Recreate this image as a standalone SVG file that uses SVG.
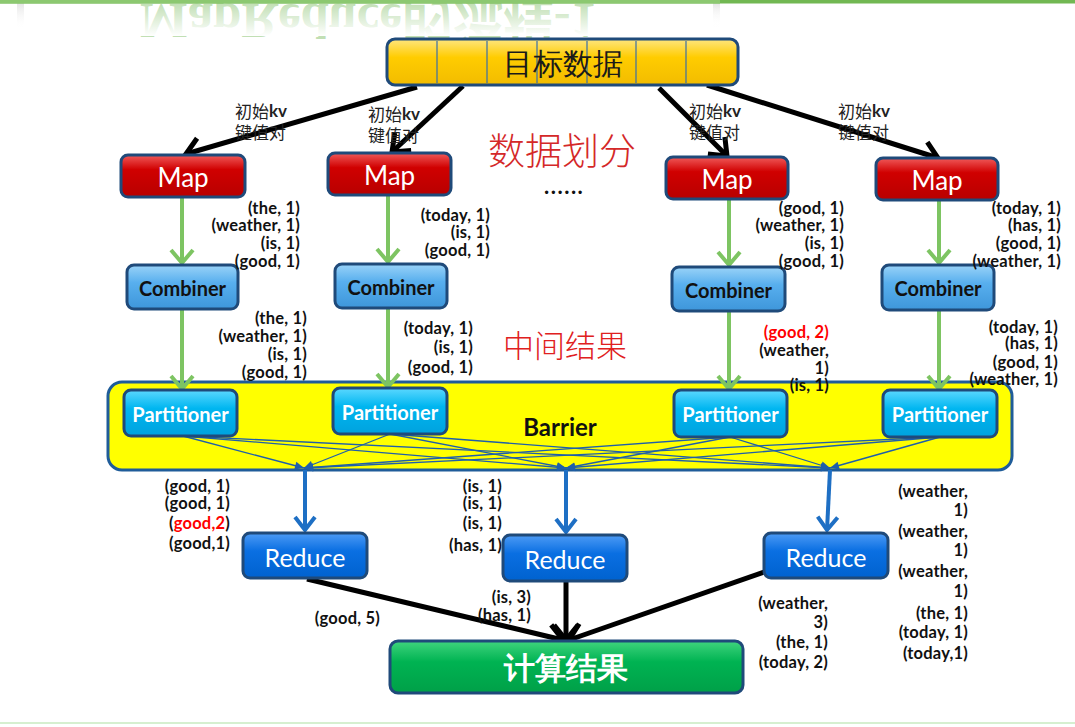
<svg xmlns="http://www.w3.org/2000/svg" width="1075" height="727" viewBox="0 0 1075 727">
<style>
.box{stroke:#1F4A7A;stroke-width:3}
.lbl{font-family:Lato,"Liberation Sans",sans-serif;font-weight:bold;font-size:16.5px;letter-spacing:0.2px;fill:#111;text-anchor:end;dominant-baseline:central}
.cjk{font-family:"Noto Sans CJK SC",sans-serif}
.kv{font-family:"Noto Sans CJK SC",sans-serif;font-size:17px;fill:#222;dominant-baseline:central}
.kvb{font-family:Lato,"Liberation Sans",sans-serif;font-weight:bold}
.bt{font-family:Lato,"Liberation Sans",sans-serif;text-anchor:middle;dominant-baseline:central}
.gline{stroke:#7DC462;stroke-width:4;fill:none;marker-end:url(#mg)}
.bline{stroke:#1E6FC4;stroke-width:4;fill:none;marker-end:url(#mbt)}
.tline{stroke:#1F5FAA;stroke-width:1.3;fill:none;marker-end:url(#mtn)}
.kline{stroke:#000;stroke-width:5;fill:none;marker-end:url(#mk)}
</style>
<defs>
<linearGradient id="gGold" x1="0" y1="0" x2="0" y2="1"><stop offset="0" stop-color="#FFE680"/><stop offset="0.4" stop-color="#FFCC00"/><stop offset="1" stop-color="#F2BC00"/></linearGradient>
<linearGradient id="gRed" x1="0" y1="0" x2="0" y2="1"><stop offset="0" stop-color="#F05A5A"/><stop offset="0.35" stop-color="#D00000"/><stop offset="1" stop-color="#B80000"/></linearGradient>
<linearGradient id="gComb" x1="0" y1="0" x2="0" y2="1"><stop offset="0" stop-color="#9AD3F8"/><stop offset="0.4" stop-color="#58AFEE"/><stop offset="1" stop-color="#3E96DA"/></linearGradient>
<linearGradient id="gPart" x1="0" y1="0" x2="0" y2="1"><stop offset="0" stop-color="#5CD8FF"/><stop offset="0.4" stop-color="#00B6F0"/><stop offset="1" stop-color="#00A2DE"/></linearGradient>
<linearGradient id="gRed2" x1="0" y1="0" x2="0" y2="1"><stop offset="0" stop-color="#4D9BF5"/><stop offset="0.4" stop-color="#0A6FE2"/><stop offset="1" stop-color="#0062CF"/></linearGradient>
<linearGradient id="gGreen" x1="0" y1="0" x2="0" y2="1"><stop offset="0" stop-color="#40D47E"/><stop offset="0.4" stop-color="#00B352"/><stop offset="1" stop-color="#00A048"/></linearGradient>
<linearGradient id="gFade" x1="0" y1="0" x2="0" y2="1"><stop offset="0" stop-color="#FFFFFF" stop-opacity="0"/><stop offset="1" stop-color="#FFFFFF" stop-opacity="1"/></linearGradient>
<linearGradient id="gEdge" x1="0" y1="0" x2="0" y2="1"><stop offset="0" stop-color="#E4E4E4"/><stop offset="1" stop-color="#FFFFFF" stop-opacity="0"/></linearGradient>
<marker id="mg" markerUnits="userSpaceOnUse" viewBox="-16 -14 20 28" markerWidth="20" markerHeight="28" refX="0" refY="0" orient="auto"><path d="M-13,-11 L0,0 L-13,11" fill="none" stroke="#7DC462" stroke-width="4"/></marker>
<marker id="mbt" markerUnits="userSpaceOnUse" viewBox="-16 -14 20 28" markerWidth="20" markerHeight="28" refX="0" refY="0" orient="auto"><path d="M-13,-10 L0,0 L-13,10" fill="none" stroke="#1E6FC4" stroke-width="4"/></marker>
<marker id="mtn" markerUnits="userSpaceOnUse" viewBox="-10 -5 11 10" markerWidth="11" markerHeight="10" refX="0" refY="0" orient="auto"><path d="M-9,-4 L0,0 L-9,4 Z" fill="#1F5FAA"/></marker>
<marker id="mk" markerUnits="userSpaceOnUse" viewBox="-19 -16 24 32" markerWidth="24" markerHeight="32" refX="0" refY="0" orient="auto"><path d="M-15,-12 L0,0 L-15,12" fill="none" stroke="#000" stroke-width="5"/></marker>
</defs>

<rect width="1075" height="727" fill="#FFFFFF"/>
<g id="decor">
<rect x="17" y="3" width="7" height="26" fill="url(#gEdge)"/>
<rect x="713" y="3" width="7" height="26" fill="url(#gEdge)"/>
<text transform="translate(0,4) scale(1,-1)" x="140" y="0" font-family="'Liberation Serif','Noto Sans CJK SC',serif" font-weight="bold" font-size="50" textLength="456" lengthAdjust="spacingAndGlyphs" fill="#9CCD88" fill-opacity="0.65">MapReduce的流程-1</text>
<rect x="100" y="3" width="620" height="33" fill="url(#gFade)"/>
<rect x="0" y="0" width="1075" height="3.5" fill="#72B853"/>
<rect x="0" y="0" width="720" height="3.5" fill="#8CC870"/>
<rect x="0" y="722" width="1075" height="2" fill="#D6EFD0"/>
</g>

<g id="barrier">
<rect x="108" y="382" width="904" height="88" rx="14" fill="#FFFF00" stroke="#1F5C99" stroke-width="3"/>
<text class="bt" x="560" y="426" font-size="24" font-weight="bold" fill="#111">Barrier</text>
</g>

<g id="connectors">
<line class="kline" x1="417" y1="87" x2="186" y2="154"/>
<line class="kline" x1="463" y1="86" x2="392" y2="152"/>
<line class="kline" x1="659" y1="88" x2="727" y2="156"/>
<line class="kline" x1="707" y1="85" x2="938" y2="158"/>
<line class="gline" x1="182" y1="197" x2="182" y2="263"/>
<line class="gline" x1="388" y1="195" x2="388" y2="262"/>
<line class="gline" x1="729" y1="199" x2="729" y2="265"/>
<line class="gline" x1="939" y1="200" x2="939" y2="263"/>
<line class="gline" x1="182" y1="309" x2="182" y2="389"/>
<line class="gline" x1="388" y1="308" x2="388" y2="387"/>
<line class="gline" x1="729" y1="311" x2="729" y2="389"/>
<line class="gline" x1="939" y1="310" x2="939" y2="389"/>
<line class="tline" x1="183" y1="436" x2="304" y2="468"/>
<line class="tline" x1="183" y1="436" x2="566" y2="468"/>
<line class="tline" x1="183" y1="436" x2="830" y2="468"/>
<line class="tline" x1="390" y1="434" x2="304" y2="468"/>
<line class="tline" x1="390" y1="434" x2="566" y2="468"/>
<line class="tline" x1="390" y1="434" x2="830" y2="468"/>
<line class="tline" x1="730" y1="437" x2="304" y2="468"/>
<line class="tline" x1="730" y1="437" x2="566" y2="468"/>
<line class="tline" x1="730" y1="437" x2="830" y2="468"/>
<line class="tline" x1="940" y1="437" x2="304" y2="468"/>
<line class="tline" x1="940" y1="437" x2="566" y2="468"/>
<line class="tline" x1="940" y1="437" x2="830" y2="468"/>
<line class="bline" x1="305" y1="470" x2="305" y2="530"/>
<line class="bline" x1="566" y1="470" x2="566" y2="532"/>
<line class="bline" x1="830" y1="470" x2="827" y2="530"/>
<line class="kline" x1="307" y1="579" x2="563" y2="640"/>
<line class="kline" x1="566" y1="581" x2="566" y2="640"/>
<line class="kline" x1="764" y1="572" x2="569" y2="640"/>
</g>

<g id="target">
<rect class="box" x="387" y="39" width="351" height="46" rx="8" fill="url(#gGold)"/>
<g stroke="#3A6EA5" stroke-width="1.2">
<line x1="437" y1="41" x2="437" y2="83"/><line x1="487" y1="41" x2="487" y2="83"/><line x1="537" y1="41" x2="537" y2="83"/><line x1="587" y1="41" x2="587" y2="83"/><line x1="636" y1="41" x2="636" y2="83"/><line x1="686" y1="41" x2="686" y2="83"/>
</g>
<text class="bt cjk" x="563" y="62" font-size="30" fill="#1A1A1A">目标数据</text>
</g>

<g id="map1"><rect class="box" x="121" y="155" width="124" height="42" rx="7" fill="url(#gRed)"/><text class="bt" x="183" y="177" font-size="26" fill="#fff">Map</text></g>
<g id="map2"><rect class="box" x="328" y="153" width="123" height="42" rx="7" fill="url(#gRed)"/><text class="bt" x="389.5" y="175" font-size="26" fill="#fff">Map</text></g>
<g id="map3"><rect class="box" x="666" y="157" width="122" height="42" rx="7" fill="url(#gRed)"/><text class="bt" x="727" y="179" font-size="26" fill="#fff">Map</text></g>
<g id="map4"><rect class="box" x="876" y="158" width="122" height="42" rx="7" fill="url(#gRed)"/><text class="bt" x="937" y="180" font-size="26" fill="#fff">Map</text></g>

<g id="comb1"><rect class="box" x="127" y="265" width="111" height="44" rx="7" fill="url(#gComb)"/><text class="bt" x="182.5" y="288" font-size="20" font-weight="bold" fill="#111">Combiner</text></g>
<g id="comb2"><rect class="box" x="335" y="264" width="112" height="44" rx="7" fill="url(#gComb)"/><text class="bt" x="391" y="287" font-size="20" font-weight="bold" fill="#111">Combiner</text></g>
<g id="comb3"><rect class="box" x="672" y="267" width="113" height="44" rx="7" fill="url(#gComb)"/><text class="bt" x="728.5" y="290" font-size="20" font-weight="bold" fill="#111">Combiner</text></g>
<g id="comb4"><rect class="box" x="882" y="265" width="112" height="45" rx="7" fill="url(#gComb)"/><text class="bt" x="938" y="288" font-size="20" font-weight="bold" fill="#111">Combiner</text></g>

<g id="part1"><rect class="box" x="124" y="390" width="113" height="46" rx="7" fill="url(#gPart)"/><text class="bt" x="180.5" y="414" font-size="20" font-weight="bold" fill="#fff">Partitioner</text></g>
<g id="part2"><rect class="box" x="333" y="388" width="114" height="46" rx="7" fill="url(#gPart)"/><text class="bt" x="390" y="412" font-size="20" font-weight="bold" fill="#fff">Partitioner</text></g>
<g id="part3"><rect class="box" x="674" y="390" width="113" height="47" rx="7" fill="url(#gPart)"/><text class="bt" x="730.5" y="414" font-size="20" font-weight="bold" fill="#fff">Partitioner</text></g>
<g id="part4"><rect class="box" x="883" y="390" width="114" height="47" rx="7" fill="url(#gPart)"/><text class="bt" x="940" y="414" font-size="20" font-weight="bold" fill="#fff">Partitioner</text></g>

<g id="reduce1"><rect class="box" x="243" y="533" width="124" height="45" rx="7" fill="url(#gRed2)"/><text class="bt" x="305" y="557" font-size="25" fill="#fff">Reduce</text></g>
<g id="reduce2"><rect class="box" x="503" y="535" width="124" height="46" rx="7" fill="url(#gRed2)"/><text class="bt" x="565" y="559" font-size="25" fill="#fff">Reduce</text></g>
<g id="reduce3"><rect class="box" x="764" y="533" width="124" height="45" rx="7" fill="url(#gRed2)"/><text class="bt" x="826" y="557" font-size="25" fill="#fff">Reduce</text></g>

<g id="result"><rect class="box" x="390" y="641" width="353" height="52" rx="8" fill="url(#gGreen)"/><text class="bt cjk" x="566" y="667" font-size="31" font-weight="bold" fill="#fff">计算结果</text></g>

<g id="titles">
<text class="cjk" x="488" y="149" font-size="37" font-weight="300" fill="#D42828" dominant-baseline="central">数据划分</text>
<text class="cjk" x="503" y="343" font-size="31" font-weight="300" fill="#E02020" dominant-baseline="central">中间结果</text>
<text x="544" y="194" font-family="Lato,'Liberation Sans',sans-serif" font-weight="bold" font-size="22" letter-spacing="1.5" fill="#111">......</text>
</g>

<g id="kvlabels">
<text class="kv" x="235" y="110">初始<tspan class="kvb">kv</tspan></text><text class="kv" x="235" y="131">键值对</text>
<text class="kv" x="368" y="113">初始<tspan class="kvb">kv</tspan></text><text class="kv" x="368" y="134">键值对</text>
<text class="kv" x="689" y="110">初始<tspan class="kvb">kv</tspan></text><text class="kv" x="689" y="131">键值对</text>
<text class="kv" x="838" y="110">初始<tspan class="kvb">kv</tspan></text><text class="kv" x="838" y="131">键值对</text>
</g>

<g id="pairs">
<text class="lbl" x="300" y="208">(the, 1)</text><text class="lbl" x="300" y="225">(weather, 1)</text><text class="lbl" x="300" y="243">(is, 1)</text><text class="lbl" x="300" y="261">(good, 1)</text>
<text class="lbl" x="490" y="215">(today, 1)</text><text class="lbl" x="490" y="232">(is, 1)</text><text class="lbl" x="490" y="250">(good, 1)</text>
<text class="lbl" x="844" y="208">(good, 1)</text><text class="lbl" x="844" y="225">(weather, 1)</text><text class="lbl" x="844" y="243">(is, 1)</text><text class="lbl" x="844" y="261">(good, 1)</text>
<text class="lbl" x="1061" y="208">(today, 1)</text><text class="lbl" x="1061" y="225">(has, 1)</text><text class="lbl" x="1061" y="243">(good, 1)</text><text class="lbl" x="1061" y="261">(weather, 1)</text>
<text class="lbl" x="307" y="318">(the, 1)</text><text class="lbl" x="307" y="336">(weather, 1)</text><text class="lbl" x="307" y="354">(is, 1)</text><text class="lbl" x="307" y="372">(good, 1)</text>
<text class="lbl" x="473" y="328">(today, 1)</text><text class="lbl" x="473" y="347">(is, 1)</text><text class="lbl" x="473" y="367">(good, 1)</text>
<text class="lbl" x="829" y="332" style="fill:#FF0000">(good, 2)</text><text class="lbl" x="829" y="350">(weather,</text><text class="lbl" x="829" y="368">1)</text><text class="lbl" x="829" y="385">(is, 1)</text>
<text class="lbl" x="1058" y="327">(today, 1)</text><text class="lbl" x="1058" y="343">(has, 1)</text><text class="lbl" x="1058" y="362">(good, 1)</text><text class="lbl" x="1058" y="379">(weather, 1)</text>
<text class="lbl" x="230" y="486">(good, 1)</text><text class="lbl" x="230" y="503">(good, 1)</text><text class="lbl" x="230" y="523">(<tspan style="fill:#FF0000">good,2</tspan>)</text><text class="lbl" x="230" y="543">(good,1)</text>
<text class="lbl" x="502" y="486">(is, 1)</text><text class="lbl" x="502" y="503">(is, 1)</text><text class="lbl" x="502" y="523">(is, 1)</text><text class="lbl" x="502" y="545">(has, 1)</text>
<text class="lbl" x="968" y="491">(weather,</text><text class="lbl" x="968" y="510">1)</text><text class="lbl" x="968" y="531">(weather,</text><text class="lbl" x="968" y="550">1)</text><text class="lbl" x="968" y="571">(weather,</text><text class="lbl" x="968" y="591">1)</text><text class="lbl" x="968" y="613">(the, 1)</text><text class="lbl" x="968" y="632">(today, 1)</text><text class="lbl" x="968" y="653">(today,1)</text>
<text class="lbl" x="380" y="618">(good, 5)</text>
<text class="lbl" x="531" y="597">(is, 3)</text><text class="lbl" x="531" y="615">(has, 1)</text>
<text class="lbl" x="828" y="603">(weather,</text><text class="lbl" x="828" y="622">3)</text><text class="lbl" x="828" y="642">(the, 1)</text><text class="lbl" x="828" y="662">(today, 2)</text>
</g>
</svg>
